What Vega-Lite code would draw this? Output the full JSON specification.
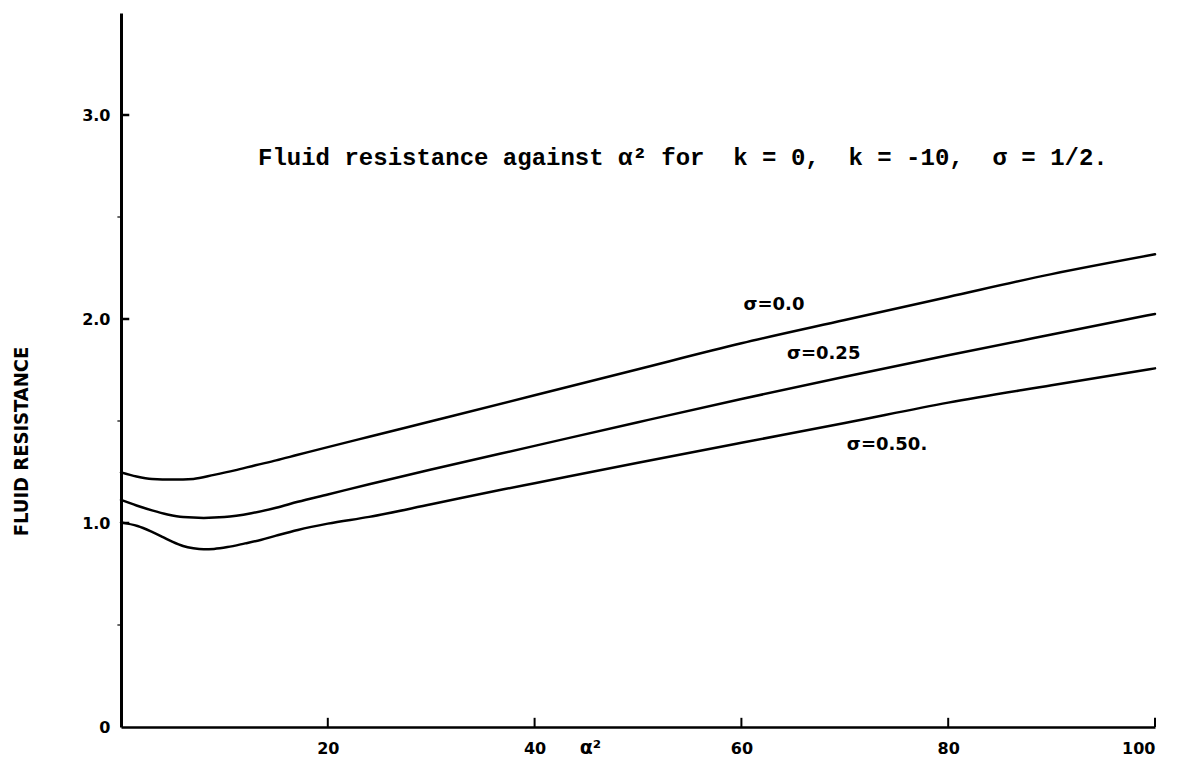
{
  "$schema": "https://vega.github.io/schema/vega-lite/v6.json",
  "width": 1034,
  "height": 714,
  "autosize": "none",
  "padding": {"left": 121, "top": 13, "right": 25, "bottom": 34},
  "background": "white",
  "config": {"view": {"stroke": null}},
  "datasets": {
    "curves": [
      {"sigma": "0.0", "x": 0, "y": 1.248}, {"sigma": "0.0", "x": 1.5, "y": 1.228}, {"sigma": "0.0", "x": 3, "y": 1.216}, {"sigma": "0.0", "x": 5, "y": 1.213}, {"sigma": "0.0", "x": 7, "y": 1.216}, {"sigma": "0.0", "x": 9, "y": 1.236}, {"sigma": "0.0", "x": 11, "y": 1.258}, {"sigma": "0.0", "x": 13, "y": 1.283}, {"sigma": "0.0", "x": 15, "y": 1.307}, {"sigma": "0.0", "x": 17, "y": 1.333}, {"sigma": "0.0", "x": 20, "y": 1.372}, {"sigma": "0.0", "x": 24, "y": 1.423}, {"sigma": "0.0", "x": 30, "y": 1.499}, {"sigma": "0.0", "x": 40, "y": 1.626}, {"sigma": "0.0", "x": 50, "y": 1.754}, {"sigma": "0.0", "x": 60, "y": 1.881}, {"sigma": "0.0", "x": 70, "y": 1.995}, {"sigma": "0.0", "x": 80, "y": 2.108}, {"sigma": "0.0", "x": 90, "y": 2.22}, {"sigma": "0.0", "x": 100, "y": 2.317},
      {"sigma": "0.25", "x": 0, "y": 1.113}, {"sigma": "0.25", "x": 1.5, "y": 1.086}, {"sigma": "0.25", "x": 3, "y": 1.062}, {"sigma": "0.25", "x": 4.5, "y": 1.042}, {"sigma": "0.25", "x": 6, "y": 1.029}, {"sigma": "0.25", "x": 8, "y": 1.025}, {"sigma": "0.25", "x": 10, "y": 1.029}, {"sigma": "0.25", "x": 12.6, "y": 1.048}, {"sigma": "0.25", "x": 15, "y": 1.075}, {"sigma": "0.25", "x": 17.1, "y": 1.104}, {"sigma": "0.25", "x": 20, "y": 1.14}, {"sigma": "0.25", "x": 24, "y": 1.19}, {"sigma": "0.25", "x": 30, "y": 1.262}, {"sigma": "0.25", "x": 40, "y": 1.378}, {"sigma": "0.25", "x": 50, "y": 1.494}, {"sigma": "0.25", "x": 60, "y": 1.608}, {"sigma": "0.25", "x": 70, "y": 1.717}, {"sigma": "0.25", "x": 80, "y": 1.822}, {"sigma": "0.25", "x": 90, "y": 1.924}, {"sigma": "0.25", "x": 100, "y": 2.025},
      {"sigma": "0.50", "x": 0, "y": 1.003}, {"sigma": "0.50", "x": 1.6, "y": 0.985}, {"sigma": "0.50", "x": 3, "y": 0.956}, {"sigma": "0.50", "x": 4, "y": 0.932}, {"sigma": "0.50", "x": 5, "y": 0.907}, {"sigma": "0.50", "x": 6, "y": 0.887}, {"sigma": "0.50", "x": 7, "y": 0.876}, {"sigma": "0.50", "x": 8, "y": 0.871}, {"sigma": "0.50", "x": 9, "y": 0.873}, {"sigma": "0.50", "x": 10.3, "y": 0.882}, {"sigma": "0.50", "x": 12, "y": 0.9}, {"sigma": "0.50", "x": 13.5, "y": 0.917}, {"sigma": "0.50", "x": 15, "y": 0.938}, {"sigma": "0.50", "x": 17.1, "y": 0.966}, {"sigma": "0.50", "x": 20, "y": 0.997}, {"sigma": "0.50", "x": 24, "y": 1.03}, {"sigma": "0.50", "x": 30, "y": 1.092}, {"sigma": "0.50", "x": 37, "y": 1.165}, {"sigma": "0.50", "x": 40, "y": 1.195}, {"sigma": "0.50", "x": 50, "y": 1.295}, {"sigma": "0.50", "x": 60, "y": 1.393}, {"sigma": "0.50", "x": 70, "y": 1.49}, {"sigma": "0.50", "x": 80, "y": 1.59}, {"sigma": "0.50", "x": 90, "y": 1.675}, {"sigma": "0.50", "x": 100, "y": 1.758}
    ],
    "notes": [
      {"kind": "curve", "label": "σ=0.0", "x": 60.2, "y": 2.07},
      {"kind": "curve", "label": "σ=0.25", "x": 64.4, "y": 1.83},
      {"kind": "curve", "label": "σ=0.50.", "x": 70.2, "y": 1.38},
      {"kind": "title", "label": "Fluid resistance against α² for \u00a0k = 0, \u00a0k = -10, \u00a0σ = 1/2.", "x": 13.25, "y": 2.79}
    ],
    "xticks": [{"x": 20}, {"x": 40}, {"x": 60}, {"x": 80}, {"x": 100}],
    "yticksMajor": [{"y": 1}, {"y": 2}, {"y": 3}],
    "yticksMinor": [{"y": 0.5}, {"y": 1.5}, {"y": 2.5}]
  },
  "layer": [
    {
      "data": {"name": "curves"},
      "mark": {"type": "line", "interpolate": "monotone", "color": "black", "strokeWidth": 2.5, "strokeCap": "round"},
      "encoding": {
        "detail": {"field": "sigma"},
        "x": {
          "field": "x", "type": "quantitative",
          "scale": {"domain": [0, 100], "nice": false, "zero": false},
          "axis": {
            "values": [20, 40, 60, 80, 100],
            "title": "α²",
            "grid": false, "ticks": false,
            "domainColor": "black", "domainWidth": 2.5,
            "labelPadding": 21, "labelBaseline": "middle",
            "labelFont": "DejaVu Sans", "labelFontWeight": "bold", "labelFontSize": 16, "labelColor": "black",
            "titleX": 469, "titleY": 20, "titleBaseline": "middle", "titleAlign": "center",
            "titleFont": "DejaVu Sans", "titleFontWeight": "bold", "titleFontSize": 19, "titleColor": "black"
          }
        },
        "y": {
          "field": "y", "type": "quantitative",
          "scale": {"domain": [0, 3.5], "nice": false, "zero": true},
          "axis": {
            "values": [0, 1, 2, 3],
            "labelExpr": "datum.value === 0 ? '0' : format(datum.value, '.1f')",
            "title": "FLUID RESISTANCE",
            "grid": false, "ticks": false,
            "domainColor": "black", "domainWidth": 3,
            "labelPadding": 11, "labelOverlap": false,
            "labelFont": "DejaVu Sans", "labelFontWeight": "bold", "labelFontSize": 16, "labelColor": "black",
            "titleX": -100, "titleY": 428, "titleAngle": -90, "titleBaseline": "middle", "titleAlign": "center",
            "titleFont": "DejaVu Sans Condensed", "titleFontWeight": "bold", "titleFontSize": 20, "titleColor": "black"
          }
        }
      }
    },
    {
      "data": {"name": "xticks"},
      "mark": {"type": "rule", "color": "black", "strokeWidth": 2},
      "encoding": {
        "x": {"field": "x", "type": "quantitative"},
        "y": {"datum": 0, "type": "quantitative"},
        "y2": {"datum": 0.045}
      }
    },
    {
      "data": {"name": "yticksMajor"},
      "mark": {"type": "rule", "color": "black", "strokeWidth": 2.5},
      "encoding": {
        "y": {"field": "y", "type": "quantitative"},
        "x": {"datum": 0, "type": "quantitative"},
        "x2": {"datum": 0.8}
      }
    },
    {
      "data": {"name": "yticksMinor"},
      "mark": {"type": "rule", "color": "black", "strokeWidth": 1.2, "clip": false},
      "encoding": {
        "y": {"field": "y", "type": "quantitative"},
        "x": {"datum": -0.35, "type": "quantitative"},
        "x2": {"datum": 0}
      }
    },
    {
      "data": {"name": "notes"},
      "transform": [{"filter": "datum.kind === 'curve'"}],
      "mark": {"type": "text", "align": "left", "baseline": "middle", "font": "DejaVu Sans", "fontWeight": "bold", "fontSize": 18, "color": "black"},
      "encoding": {
        "x": {"field": "x", "type": "quantitative"},
        "y": {"field": "y", "type": "quantitative"},
        "text": {"field": "label"}
      }
    },
    {
      "data": {"name": "notes"},
      "transform": [{"filter": "datum.kind === 'title'"}],
      "mark": {"type": "text", "align": "left", "baseline": "middle", "font": "Liberation Mono", "fontWeight": "bold", "fontSize": 24, "color": "black"},
      "encoding": {
        "x": {"field": "x", "type": "quantitative"},
        "y": {"field": "y", "type": "quantitative"},
        "text": {"field": "label"}
      }
    }
  ]
}
